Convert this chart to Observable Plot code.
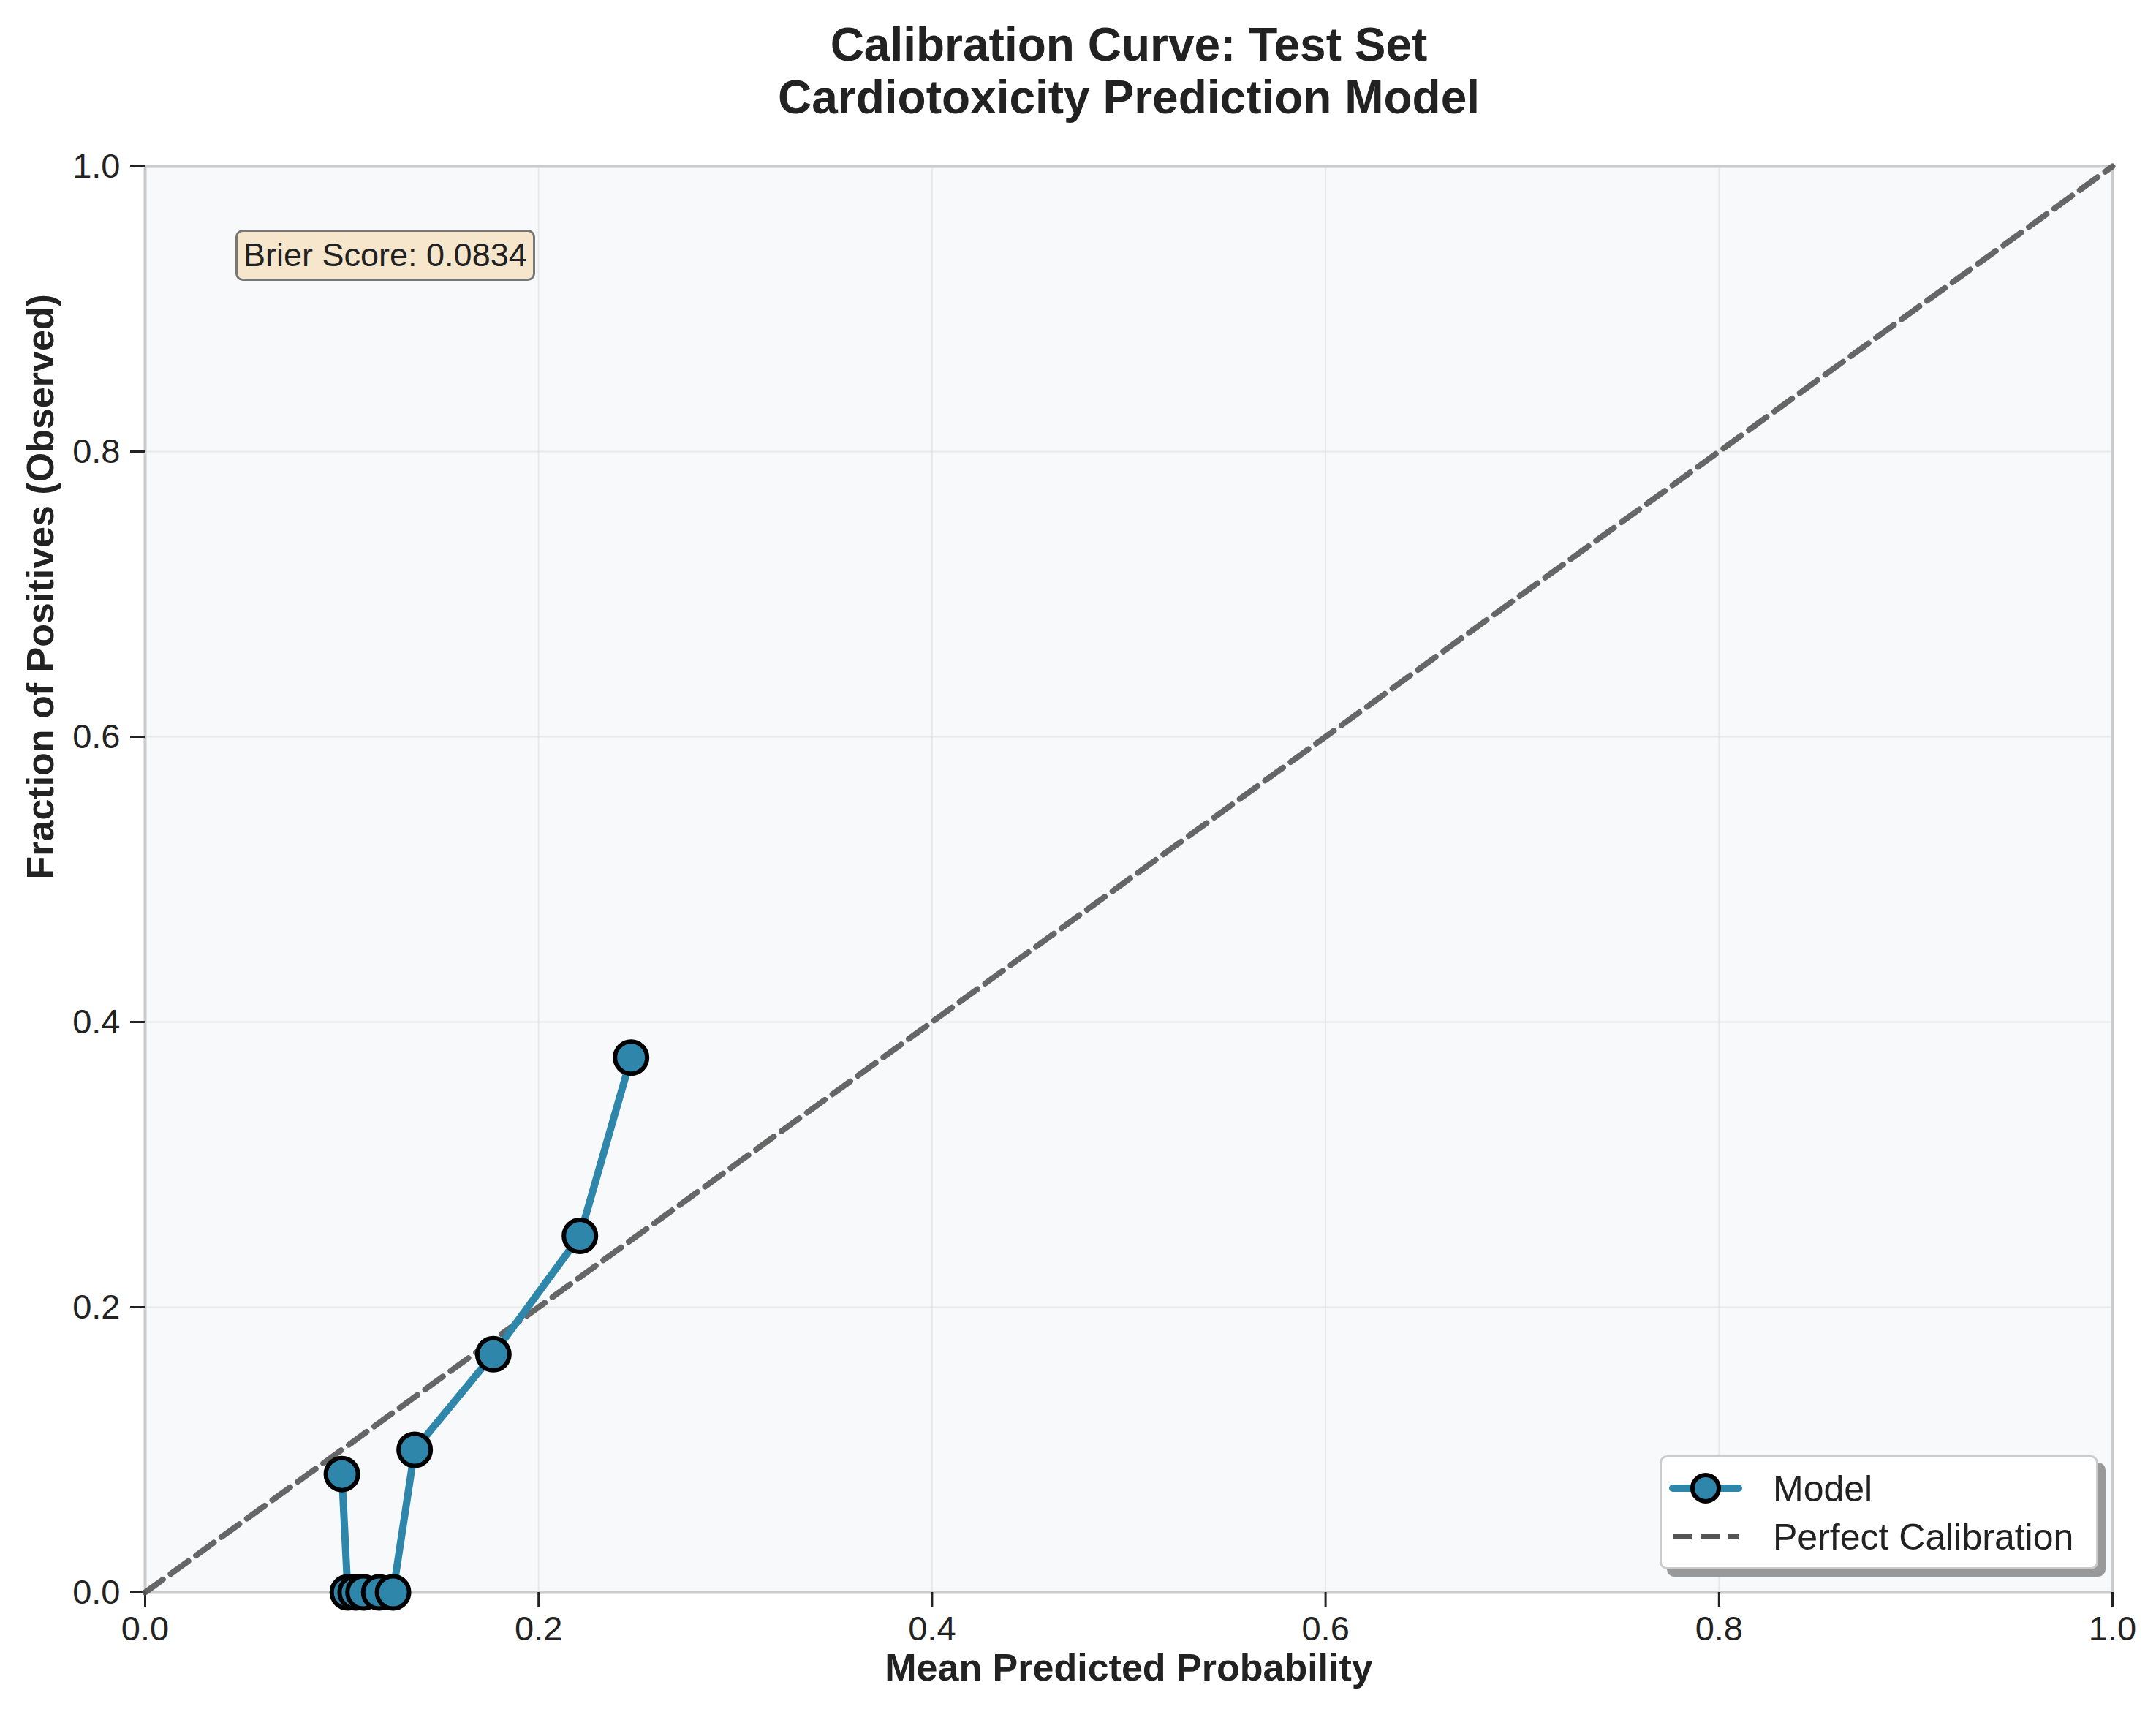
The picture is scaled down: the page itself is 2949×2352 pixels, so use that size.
<!DOCTYPE html>
<html><head><meta charset="utf-8">
<script src="https://cdn.jsdelivr.net/npm/d3@7"></script>
<script src="https://cdn.jsdelivr.net/npm/@observablehq/plot@0.6"></script>
<style>
body{margin:0;background:#fff;font-family:"Liberation Sans",Arial,sans-serif;}
#wrap{position:relative;width:2949px;height:2352px;}
.ann{position:absolute;font-family:"Liberation Sans",Arial,sans-serif;color:#222;}
</style></head><body>
<div id="wrap"></div>
<script>
const predicted = [0.100, 0.103, 0.107, 0.111, 0.119, 0.126, 0.137, 0.177, 0.221, 0.247];
const observed  = [0.083, 0.0, 0.0, 0.0, 0.0, 0.0, 0.100, 0.167, 0.250, 0.375];
const diagonal = [0, 1];
const ticks = [0, 0.2, 0.4, 0.6, 0.8, 1.0];
const brier = "Brier Score: 0.0834";
const titleLines = ["Calibration Curve: Test Set", "Cardiotoxicity Prediction Model"];

const data = predicted.map((p, i) => ({x: p, y: observed[i]}));
const diag = diagonal.map(v => ({x: v, y: v}));

const chart = Plot.plot({
  width: 2949, height: 2352,
  marginLeft: 198, marginRight: 60, marginTop: 227, marginBottom: 175,
  style: {fontFamily: "'Liberation Sans', Arial, sans-serif", fontSize: "46px", color: "#222", background: "#fff"},
  x: {domain: [0, 1], ticks, tickFormat: d3.format(".1f"), label: null},
  y: {domain: [0, 1], ticks, tickFormat: d3.format(".1f"), label: null},
  marks: [
    Plot.frame({fill: "#f8f9fa", stroke: null}),
    Plot.gridX(ticks, {stroke: "#ddd", strokeOpacity: 0.6, strokeWidth: 2}),
    Plot.gridY(ticks, {stroke: "#ddd", strokeOpacity: 0.6, strokeWidth: 2}),
    Plot.frame({stroke: "#ccc", strokeWidth: 4}),
    Plot.axisX({ticks, tickFormat: d3.format(".1f"), tickSize: 20, tickPadding: 12, stroke: "#222", strokeWidth: 3, fontSize: 47}),
    Plot.axisY({ticks, tickFormat: d3.format(".1f"), tickSize: 20, tickPadding: 14, stroke: "#222", strokeWidth: 3, fontSize: 47}),
    Plot.line(diag, {x: "x", y: "y", stroke: "#555", strokeOpacity: 0.9, strokeWidth: 8, strokeDasharray: "30,13"}),
    Plot.line(data, {x: "x", y: "y", stroke: "#2e86ab", strokeWidth: 10}),
    Plot.dot(data, {x: "x", y: "y", r: 22, fill: "#2e86ab", stroke: "#000", strokeWidth: 6}),
    Plot.text([titleLines[0]], {frameAnchor: "top", dy: -190, fontSize: 64, fontWeight: "bold", fill: "#222"}),
    Plot.text([titleLines[1]], {frameAnchor: "top", dy: -118, fontSize: 64, fontWeight: "bold", fill: "#222"}),
    Plot.text(["Mean Predicted Probability"], {frameAnchor: "bottom", dy: 120, fontSize: 52, fontWeight: "bold", fill: "#222"}),
    Plot.text(["Fraction of Positives (Observed)"], {frameAnchor: "left", dx: -142, rotate: -90, fontSize: 52, fontWeight: "bold", fill: "#222"})
  ]
});
const wrap = document.getElementById("wrap");
wrap.appendChild(chart);

const b = document.createElement("div");
b.className = "ann";
b.style.cssText += "left:322px;top:314px;padding:4px 8px;font-size:45px;background:#f5e6cc;border:3px solid #777;border-radius:10px;line-height:56px;";
b.textContent = brier;
wrap.appendChild(b);

const lg = document.createElement("div");
lg.className = "ann";
lg.style.cssText += "left:2270px;top:1990px;width:594px;height:150px;background:#fff;border:3px solid #ccc;border-radius:10px;box-shadow:10px 10px 0 #999;";
lg.innerHTML = `
<svg width="594" height="150" style="position:absolute;left:0;top:0">
 <line x1="15" y1="42" x2="105" y2="42" stroke="#2e86ab" stroke-width="10" stroke-linecap="round"/>
 <circle cx="60" cy="42" r="18" fill="#2e86ab" stroke="#000" stroke-width="6"/>
 <line x1="15" y1="108" x2="105" y2="108" stroke="#555" stroke-width="8" stroke-dasharray="26,12"/>
 <text x="152" y="60" font-size="50" fill="#222">Model</text>
 <text x="152" y="126" font-size="50" fill="#222">Perfect Calibration</text>
</svg>`;
wrap.appendChild(lg);
</script>
</body></html>
